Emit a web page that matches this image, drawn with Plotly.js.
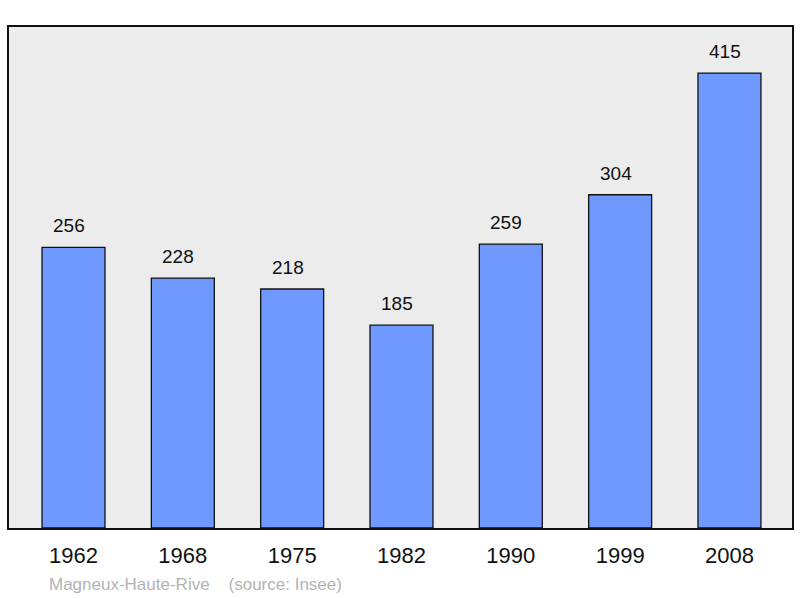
<!DOCTYPE html>
<html><head><meta charset="utf-8">
<script src="https://cdn.plot.ly/plotly-3.0.1.min.js"></script>
<style>html,body{margin:0;padding:0;background:#fff}#c{width:800px;height:598px}</style>
</head><body><div id="c"></div>
<script>
const years = ['1962','1968','1975','1982','1990','1999','2008'];
const population = [256, 228, 218, 185, 259, 304, 415];
const sourceText = 'Magneux-Haute-Rive\u00a0\u00a0\u00a0\u00a0(source: Insee)';

const trace = {
  type: 'bar', x: years, y: population, width: 0.576,
  marker: {color: '#7099ff', line: {color: '#111', width: 1.3}},
  hoverinfo: 'none'
};
const annotations = years.map((yr, i) => ({
  x: i, y: population[i], xref: 'x', yref: 'y', text: String(population[i]),
  showarrow: false, yanchor: 'bottom', yshift: 9, xshift: -4.5,
  font: {family: 'Liberation Sans, Arial, sans-serif', size: 19, color: '#111'}
}));
annotations.push({
  xref: 'paper', yref: 'paper', x: 0.049, y: -0.112, xanchor: 'left', yanchor: 'middle',
  text: sourceText, showarrow: false,
  font: {family: 'Liberation Sans, Arial, sans-serif', size: 17, color: '#b3b3b3'}
});
const layout = {
  width: 800, height: 598,
  margin: {l: 9, r: 8, t: 27, b: 70, pad: 0},
  paper_bgcolor: '#fff', plot_bgcolor: '#ececec',
  showlegend: false,
  xaxis: {type: 'category', range: [-0.59, 6.572], showgrid: false, zeroline: false,
    showline: true, mirror: true, linecolor: '#111', linewidth: 2,
    ticks: 'outside', ticklen: 7, tickcolor: 'rgba(0,0,0,0)',
    tickfont: {family: 'Liberation Sans, Arial, sans-serif', size: 22, color: '#111'}},
  yaxis: {range: [0, 457], showgrid: false, zeroline: false, showticklabels: false,
    showline: true, mirror: true, linecolor: '#111', linewidth: 2, ticks: ''},
  annotations: annotations
};
Plotly.newPlot('c', [trace], layout, {staticPlot: true, displayModeBar: false});
</script></body></html>
